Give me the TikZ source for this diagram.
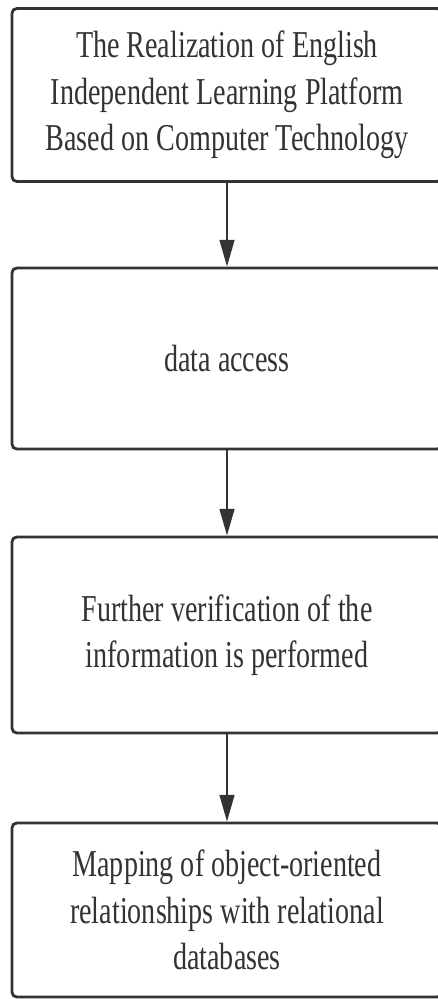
\documentclass[tikz,border=0pt]{standalone}
\usepackage{fontspec}
\setmainfont[FakeStretch=0.74]{Liberation Serif}
\usetikzlibrary{arrows.meta,positioning}
\definecolor{darkline}{HTML}{333333}

\begin{document}
\begin{tikzpicture}[x=0.025cm, y=-0.025cm, >={Triangle[length=19pt,width=10.5pt]},
    stepbox/.style={rectangle, draw=darkline, line width=2pt, rounded corners=3.5pt, fill=white, text=darkline,
      minimum width=10.75cm, align=center, font=\fontsize{27}{33}\selectfont},
    flow/.style={->, line width=1.5pt, draw=darkline, fill=darkline}]
      \clip (0,0) rectangle (438,999);
      \fill[white] (0,0) rectangle (438,999);

      % Title box
      \node[stepbox, minimum height=4.325cm] (title) at (227,95) {The Realization of English\\Independent Learning Platform\\Based on Computer Technology};

      % Data access
      \node[stepbox, minimum height=4.525cm] (access) at (227,358.5) {data access};

      % Verification
      \node[stepbox, minimum height=4.9cm] (verify) at (227,635) {Further verification of the\\information is performed};

      % Mapping
      \node[stepbox, minimum height=4.35cm] (mapping) at (227,910) {Mapping of object-oriented\\relationships with relational\\databases};

      % Arrows (top to bottom)
      \draw[flow] (title.south) -- (access.north);
      \draw[flow] (access.south) -- (verify.north);
      \draw[flow] (verify.south) -- (mapping.north);

    \end{tikzpicture}
\end{document}
